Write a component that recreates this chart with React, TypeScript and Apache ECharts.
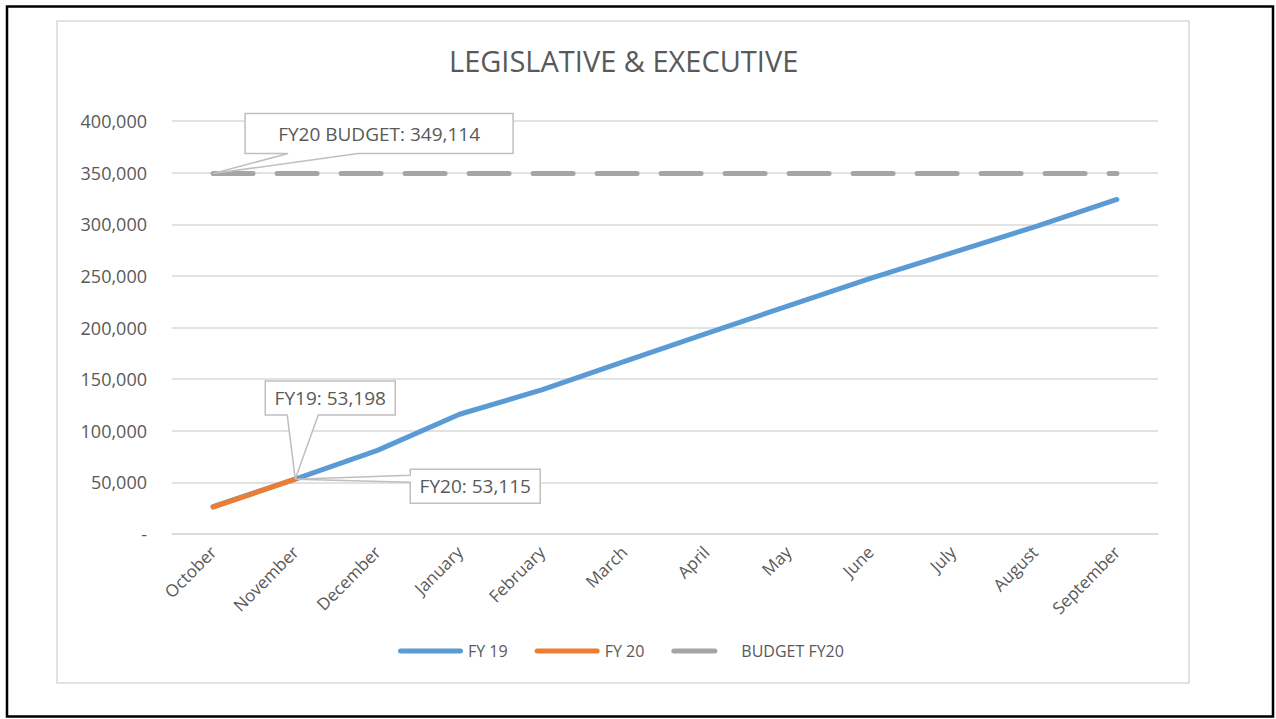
import React, { useEffect, useRef } from "react";
import * as echarts from "echarts";

const months = [
  "October", "November", "December", "January", "February", "March",
  "April", "May", "June", "July", "August", "September",
];
const fy19 = [26600, 53198, 81000, 116000, 139500, 167000, 194000, 221000, 247500, 272500, 297500, 324000];
const fy20 = [26000, 53115, null, null, null, null, null, null, null, null, null, null];
const budgetFy20 = [349114, 349114, 349114, 349114, 349114, 349114, 349114, 349114, 349114, 349114, 349114, 349114];

const titleText = "LEGISLATIVE & EXECUTIVE";
const budgetLabel = "FY20 BUDGET: 349,114";
const fy19Label = "FY19: 53,198";
const fy20Label = "FY20: 53,115";

const FONT = "'Open Sans', sans-serif";
const TXT = "#595959";

// legend icons: solid rounded bar, and a shorter rounded dash (tiny invisible dot keeps box width)
const ICON_SOLID = "path://M2.5,0 H62.5 A2.5,2.5 0 0 1 62.5,5 H2.5 A2.5,2.5 0 0 1 2.5,0 Z";
const ICON_DASH = "path://M2.5,0 H43.5 A2.5,2.5 0 0 1 43.5,5 H2.5 A2.5,2.5 0 0 1 2.5,0 Z M64.99,2.5 H65 V2.51 H64.99 Z";

function callout(
  id: string,
  pt: number[],
  box: { dx: number; dy: number; w: number; h: number },
  wedge: { side: "bottom" | "left"; a: number; b: number },
  text: string
) {
  const L = pt[0] + box.dx;
  const T = pt[1] + box.dy;
  const R = L + box.w;
  const B = T + box.h;
  let points: number[][];
  if (wedge.side === "bottom") {
    points = [[L, T], [R, T], [R, B], [pt[0] + wedge.b, B], [pt[0], pt[1]], [pt[0] + wedge.a, B], [L, B]];
  } else {
    points = [[L, T], [R, T], [R, B], [L, B], [L, pt[1] + wedge.b], [pt[0], pt[1]], [L, pt[1] + wedge.a]];
  }
  return [
    {
      id: id + "_shape",
      type: "polygon",
      z: 100,
      shape: { points },
      style: { fill: "#ffffff", stroke: "#bfbfbf", lineWidth: 1.5 },
    },
    {
      id: id + "_text",
      type: "text",
      z: 101,
      x: (L + R) / 2,
      y: (T + B) / 2,
      style: {
        text,
        fill: TXT,
        font: `19px ${FONT}`,
        align: "center",
        verticalAlign: "middle",
      },
    },
  ];
}

export default function App() {
  const ref = useRef<HTMLDivElement>(null);
  useEffect(() => {
    if (!ref.current) return;
    const chart = echarts.init(ref.current, null, { renderer: "svg" });
    chart.setOption({
      animation: false,
      backgroundColor: "#ffffff",
      title: {
        text: titleText,
        left: 444,
        top: 41,
        textStyle: { fontFamily: FONT, fontSize: 29, fontWeight: "normal", color: TXT },
      },
      grid: { left: 172, right: 118, top: 121, bottom: 185, containLabel: false },
      legend: {
        left: 393,
        top: 638,
        itemWidth: 65,
        itemHeight: 5,
        itemGap: 27,
        symbolKeepAspect: true,
        textStyle: { fontFamily: FONT, fontSize: 16, color: TXT },
        data: [
          { name: "FY 19", icon: ICON_SOLID },
          { name: "FY 20", icon: ICON_SOLID },
          { name: "BUDGET FY20", icon: ICON_DASH },
        ],
      },
      xAxis: {
        type: "category",
        data: months,
        boundaryGap: true,
        axisLine: { show: true, lineStyle: { color: "#d9d9d9", width: 1.5 } },
        axisTick: { show: false },
        axisLabel: {
          rotate: 45,
          margin: 15,
          interval: 0,
          color: TXT,
          fontFamily: FONT,
          fontSize: 17,
        },
      },
      yAxis: {
        type: "value",
        min: 0,
        max: 400000,
        interval: 50000,
        axisLine: { show: false },
        axisTick: { show: false },
        splitLine: { lineStyle: { color: "#d9d9d9", width: 1.5 } },
        axisLabel: {
          margin: 25,
          color: TXT,
          fontFamily: FONT,
          fontSize: 18,
          formatter: (v: number) => (v === 0 ? "-" : v.toLocaleString("en-US")),
        },
      },
      series: [
        {
          name: "BUDGET FY20",
          type: "line",
          data: budgetFy20,
          symbol: "none",
          z: 2,
          itemStyle: { color: "#a5a5a5" },
          lineStyle: { color: "#a5a5a5", width: 5, type: [40, 24], cap: "round" },
        },
        {
          name: "FY 19",
          type: "line",
          data: fy19,
          symbol: "none",
          z: 3,
          itemStyle: { color: "#5b9bd5" },
          lineStyle: { color: "#5b9bd5", width: 5, cap: "round", join: "round" },
        },
        {
          name: "FY 20",
          type: "line",
          data: fy20,
          symbol: "none",
          z: 4,
          itemStyle: { color: "#ed7d31" },
          lineStyle: { color: "#ed7d31", width: 5, cap: "round", join: "round" },
        },
      ],
    });

    const pBudget = chart.convertToPixel({ xAxisIndex: 0, yAxisIndex: 0 }, [0, budgetFy20[0]]) as number[];
    const pFy19 = chart.convertToPixel({ xAxisIndex: 0, yAxisIndex: 0 }, [1, fy19[1]]) as number[];
    const pFy20 = chart.convertToPixel({ xAxisIndex: 0, yAxisIndex: 0 }, [1, fy20[1] as number]) as number[];

    const graphics: any[] = [
      {
        id: "outer",
        type: "rect",
        z: 0,
        silent: true,
        shape: { x: 7, y: 6.5, width: 1266, height: 710 },
        style: { fill: "none", stroke: "#000000", lineWidth: 2.5 },
      },
      {
        id: "inner",
        type: "rect",
        z: 0,
        silent: true,
        shape: { x: 57, y: 21, width: 1132, height: 662 },
        style: { fill: "none", stroke: "#d9d9d9", lineWidth: 1.5 },
      },
      ...callout("budget", pBudget, { dx: 32, dy: -60, w: 268, h: 40 }, { side: "bottom", a: 75, b: 145 }, budgetLabel),
      ...callout("fy19", pFy19, { dx: -30, dy: -98, w: 130, h: 34 }, { side: "bottom", a: -8, b: 23 }, fy19Label),
      ...callout("fy20", pFy20, { dx: 115, dy: -10, w: 130, h: 34 }, { side: "left", a: -4, b: 3 }, fy20Label),
    ];
    chart.setOption({ graphic: graphics });

    return () => chart.dispose();
  }, []);
  return (
    <div
      ref={ref}
      style={{ position: "fixed", left: 0, top: 0, width: 1276, height: 719 }}
    />
  );
}
